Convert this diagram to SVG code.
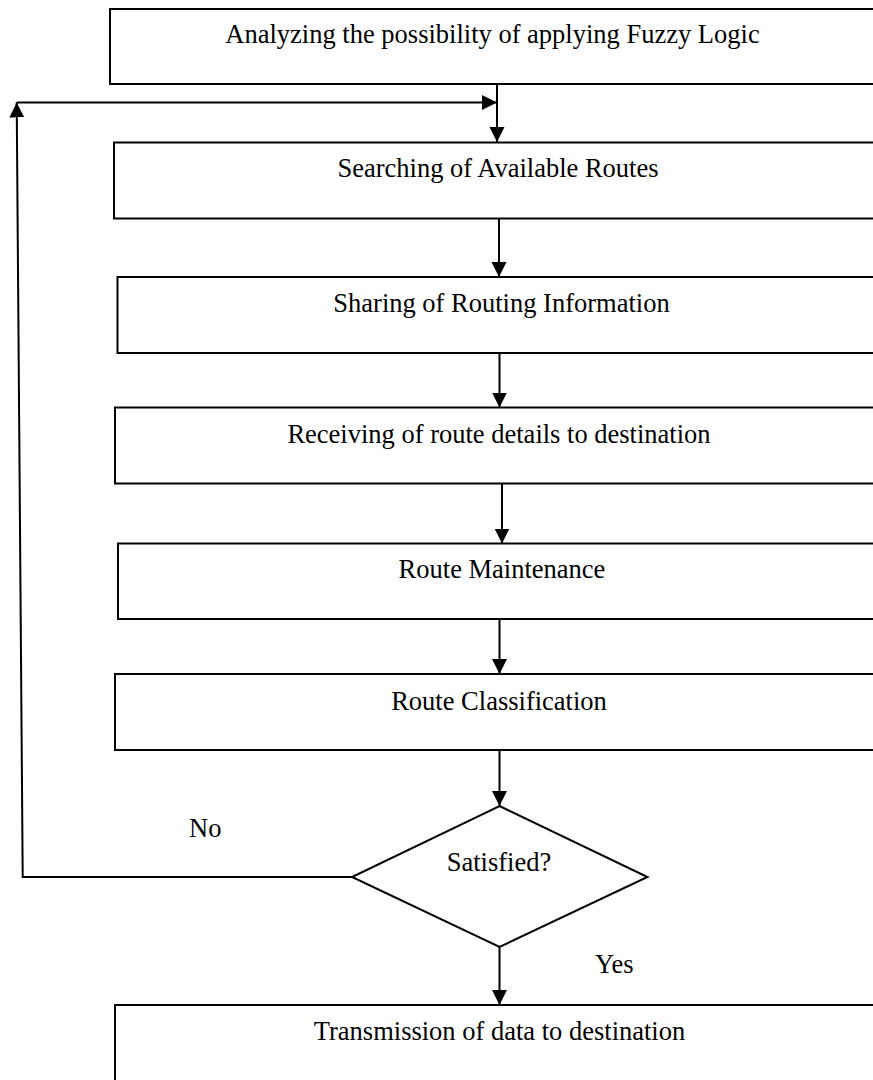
<svg xmlns="http://www.w3.org/2000/svg" width="873" height="1080" viewBox="0 0 873 1080">
<style>
.box{fill:#fff;stroke:#000;stroke-width:2}
.t{font-family:"Liberation Serif","Times New Roman",serif;font-size:26.5px;fill:#000;text-anchor:middle}
.lbl{font-family:"Liberation Serif","Times New Roman",serif;font-size:26.5px;fill:#000}
.c{fill:none;stroke:#000;stroke-width:2}
</style>
<defs>
<marker id="ah" markerUnits="userSpaceOnUse" markerWidth="16" markerHeight="16" refX="15" refY="7.5" orient="auto">
<path d="M0,0 L15,7.5 L0,15 z" fill="#000"/>
</marker>
</defs>
<rect width="873" height="1080" fill="#fff"/>
<g id="n1"><rect class="box" x="110" y="9" width="800" height="75"/><text class="t" x="492.5" y="43">Analyzing the possibility of applying Fuzzy Logic</text></g>
<g id="n2"><rect class="box" x="114" y="142.5" width="800" height="76"/><text class="t" x="498" y="177">Searching of Available Routes</text></g>
<g id="n3"><rect class="box" x="117.5" y="277" width="800" height="76"/><text class="t" x="501.5" y="312">Sharing of Routing Information</text></g>
<g id="n4"><rect class="box" x="115" y="407.5" width="800" height="76"/><text class="t" x="499" y="443">Receiving of route details to destination</text></g>
<g id="n5"><rect class="box" x="118" y="543.5" width="800" height="75.5"/><text class="t" x="502" y="578">Route Maintenance</text></g>
<g id="n6"><rect class="box" x="115" y="674" width="800" height="76"/><text class="t" x="499" y="710">Route Classification</text></g>
<g id="n7"><polygon class="box" points="499.5,806 647.5,877 499.5,947 352,877"/><text class="t" x="499" y="871">Satisfied?</text></g>
<g id="n8"><rect class="box" x="115" y="1005" width="800" height="100"/><text class="t" x="499.5" y="1040">Transmission of data to destination</text></g>
<g id="connectors">
<line class="c" x1="497" y1="84" x2="497" y2="142" marker-end="url(#ah)"/>
<line class="c" x1="16.7" y1="102.5" x2="497" y2="102.5" marker-end="url(#ah)"/>
<line class="c" x1="499" y1="218.5" x2="499" y2="277" marker-end="url(#ah)"/>
<line class="c" x1="499.5" y1="353" x2="499.5" y2="407.5" marker-end="url(#ah)"/>
<line class="c" x1="502" y1="483.5" x2="502" y2="543.5" marker-end="url(#ah)"/>
<line class="c" x1="499.5" y1="619" x2="499.5" y2="674" marker-end="url(#ah)"/>
<line class="c" x1="499.5" y1="750" x2="499.5" y2="806" marker-end="url(#ah)"/>
<line class="c" x1="499.5" y1="947" x2="499.5" y2="1005" marker-end="url(#ah)"/>
<polyline class="c" points="352,877 22.7,877 16.7,102.5" marker-end="url(#ah)"/>
<text class="lbl" x="189" y="837">No</text>
<text class="lbl" x="595" y="973">Yes</text>
</g>
</svg>
